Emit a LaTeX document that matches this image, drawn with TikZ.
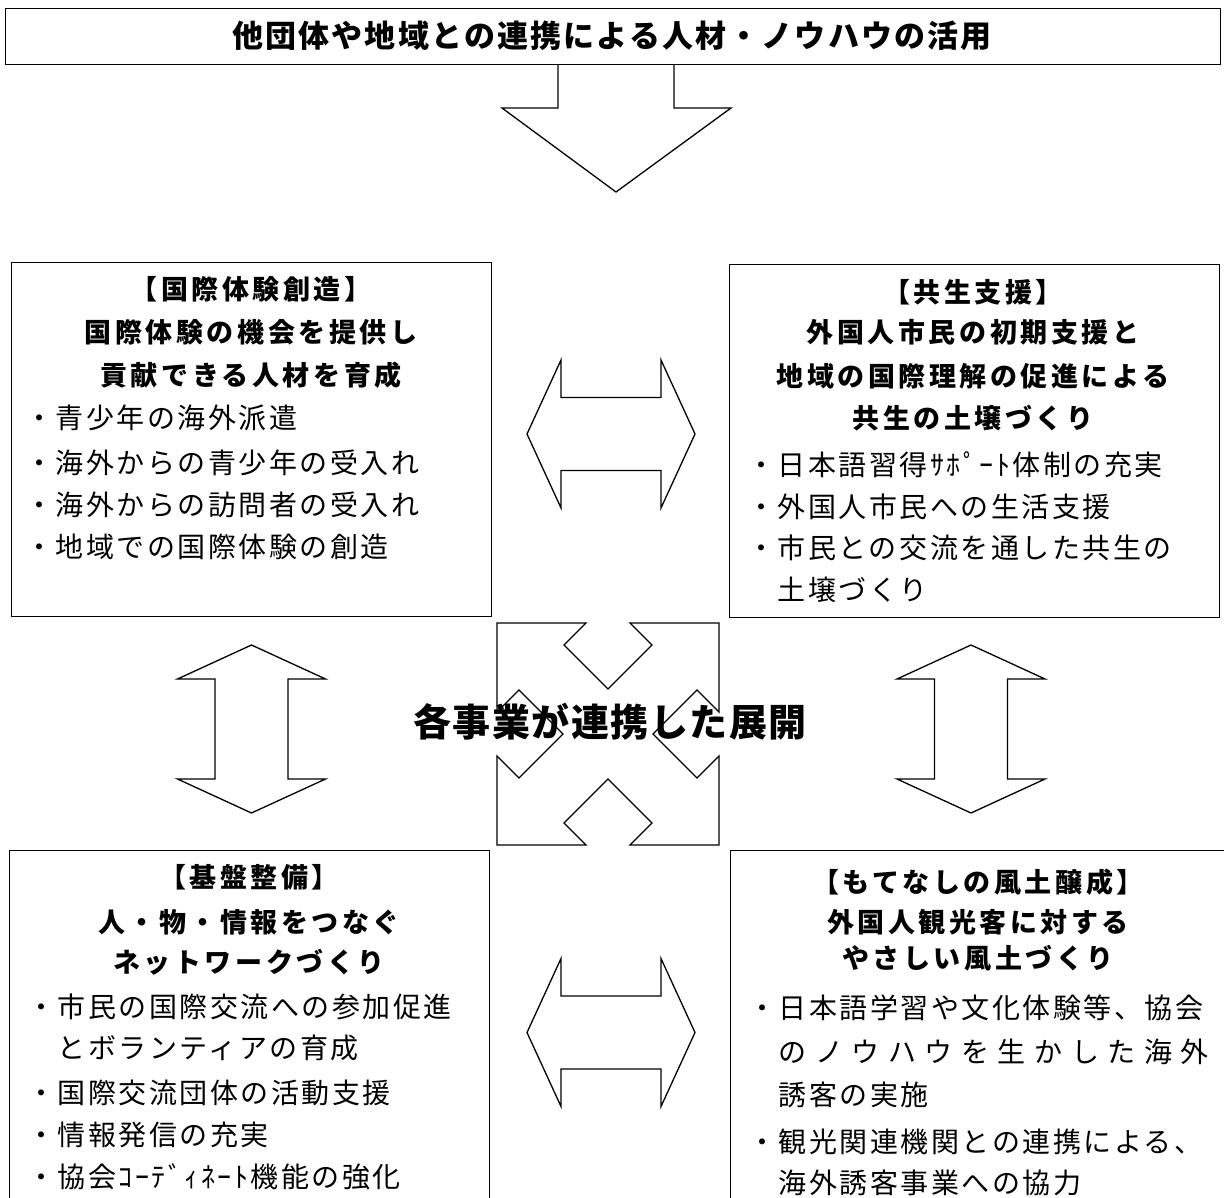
\documentclass[tikz,border=0pt]{standalone}
\usepackage{fontspec}
\newfontfamily\jp{Noto Sans CJK JP}
\newcommand\bodyfont{\jp\fontsize{28pt}{32pt}\selectfont\addfontfeature{LetterSpace=9}}
\newcommand\ttlfont{\jp\bfseries\fontsize{27pt}{30pt}\selectfont\addfontfeature{LetterSpace=13}}
\newcommand\topfont{\jp\bfseries\fontsize{31pt}{34pt}\selectfont\addfontfeature{LetterSpace=7}}
\newcommand\midfont{\jp\bfseries\fontsize{38pt}{40pt}\selectfont\addfontfeature{LetterSpace=4}}
\tikzset{
  frame/.style={draw, line width=1.3pt, fill=white, inner sep=0pt},
  blockarrow/.style={draw, line width=1.3pt, fill=white, line join=miter},
  body/.style={anchor=base west, inner sep=0pt, font=\bodyfont},
  ttl/.style={anchor=base, inner sep=0pt, font=\ttlfont},
  dblarr/.pic={\path[blockarrow] (-84,0) -- (-50,-74) -- (-50,-36.5) -- (50,-36.5) -- (50,-74) -- (84,0) -- (50,74) -- (50,36.5) -- (-50,36.5) -- (-50,74) -- cycle;}
}
\begin{document}
\begin{tikzpicture}[x=1pt,y=-1pt]
\useasboundingbox (0,0) rectangle (1224,1198);
\clip (0,0) rectangle (1224,1198);
\fill[white] (0,0) rectangle (1224,1198);

% top arrow (drawn first, box covers its open end)
\path[blockarrow] (558,62) -- (558,108) -- (502,108) -- (616,192) -- (731,108) -- (674,108) -- (674,62);
\node[frame, anchor=north west, minimum width=1215pt, minimum height=56pt] (top) at (5,8) {};
\node[anchor=base, inner sep=0pt, font=\topfont] (toptext) at (612,47.8) {他団体や地域との連携による人材・ノウハウの活用};

% boxes
\node[frame, anchor=north west, minimum width=480pt, minimum height=354pt] (tl) at (11,262) {};
\node[frame, anchor=north west, minimum width=490pt, minimum height=353pt] (tr) at (729,264) {};
\node[frame, anchor=north west, minimum width=480pt, minimum height=390pt] (bl) at (9,850) {};
\node[frame, anchor=north west, minimum width=510pt, minimum height=390pt] (br) at (730,850) {};

% double arrows
\pic at (611,434) {dblarr};
\pic at (611,1032.5) {dblarr};
\pic[rotate=90] at (251.5,729) {dblarr};
\pic[rotate=90] at (971,729) {dblarr};

% four-way arrow
\path[blockarrow, shift={(608,734)}] (-111,-111) -- (-22,-111) -- (-44,-89) -- (0,-45) -- (44,-89) -- (22,-111) -- (111,-111) -- (111,-22) -- (89,-44) -- (45,0) -- (89,44) -- (111,22) -- (111,111) -- (22,111) -- (44,89) -- (0,45) -- (-44,89) -- (-22,111) -- (-111,111) -- (-111,22) -- (-89,44) -- (-45,0) -- (-89,-44) -- (-111,-22) -- cycle;
\node[anchor=base, inner sep=0pt, font=\midfont] (mid) at (610,736) {各事業が連携した展開};

% top-left box text
\node[ttl] (tl1) at (251,300) {【国際体験創造】};
\node[ttl] (tl2) at (251,343) {国際体験の機会を提供し};
\node[ttl] (tl3) at (251,385) {貢献できる人材を育成};
\node[body] (tlb1) at (25,428.5) {・青少年の海外派遣};
\node[body] (tlb2) at (25,473.5) {・海外からの青少年の受入れ};
\node[body] (tlb3) at (25,515.5) {・海外からの訪問者の受入れ};
\node[body] (tlb4) at (25,557.5) {・地域での国際体験の創造};

% top-right box text
\node[ttl] (tr1) at (973,303) {【共生支援】};
\node[ttl] (tr2) at (973,343) {外国人市民の初期支援と};
\node[ttl] (tr3) at (973,387) {地域の国際理解の促進による};
\node[ttl] (tr4) at (973,428) {共生の土壌づくり};
\node[body] (trb1) at (747,475.5) {・日本語習得ｻﾎﾟｰﾄ体制の充実};
\node[body] (trb2) at (747,517.5) {・外国人市民への生活支援};
\node[body] (trb3) at (747,558.5) {・市民との交流を通した共生の};
\node[body] (trb4) at (777.5,600.5) {土壌づくり};

% bottom-left box text
\node[ttl] (bl1) at (249,887) {【基盤整備】};
\node[ttl] (bl2) at (249,932) {人・物・情報をつなぐ};
\node[ttl] (bl3) at (249,972) {ネットワークづくり};
\node[body] (blb1) at (27,1017.5) {・市民の国際交流への参加促進};
\node[body] (blb2) at (57.5,1058.5) {とボランティアの育成};
\node[body] (blb3) at (27,1103.5) {・国際交流団体の活動支援};
\node[body] (blb4) at (27,1145.5) {・情報発信の充実};
\node[body] (blb5) at (27,1187.5) {・協会ｺｰﾃﾞｨﾈｰﾄ機能の強化};

% bottom-right box text
\node[ttl] (br1) at (978,892) {【もてなしの風土醸成】};
\node[ttl] (br2) at (978,932) {外国人観光客に対する};
\node[ttl] (br3) at (978,968) {やさしい風土づくり};
\node[body] (brb1) at (748,1018.5) {・日本語学習や文化体験等、協会};
\node[body] (brb2) at (778.5,1062.5) {\makebox[430pt][l]{の\hfill ノ\hfill ウ\hfill ハ\hfill ウ\hfill を\hfill 生\hfill か\hfill し\hfill た\hfill 海\hfill 外}};
\node[body] (brb3) at (778.5,1105.5) {誘客の実施};
\node[body] (brb4) at (748,1152.5) {・観光関連機関との連携による、};
\node[body] (brb5) at (778.5,1193.5) {海外誘客事業への協力};
\end{tikzpicture}
\end{document}
